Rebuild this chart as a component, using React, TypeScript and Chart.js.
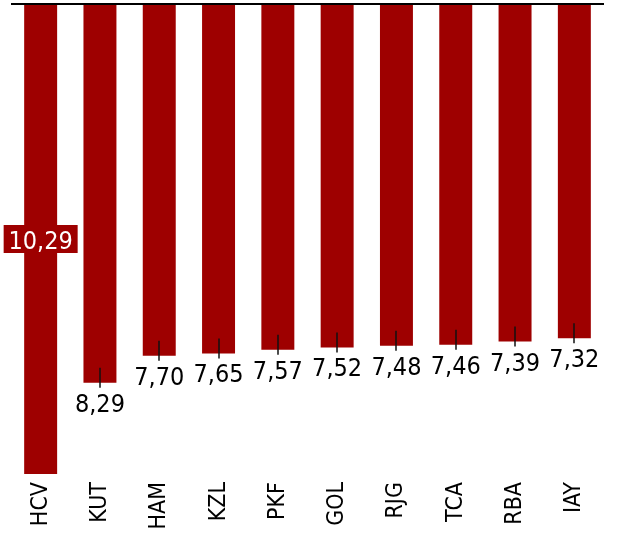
import { useEffect, useRef } from 'react';
import { Chart, registerables } from 'chart.js';

Chart.register(...registerables);

const categories = ['HCV', 'KUT', 'HAM', 'KZL', 'PKF', 'GOL', 'RJG', 'TCA', 'RBA', 'IAY'];
const values = [10.29, 8.29, 7.7, 7.65, 7.57, 7.52, 7.48, 7.46, 7.39, 7.32];
const axisMax = 10.29;
const barColor = '#9e0000';
const fontFamily = '"DejaVu Sans Condensed", "DejaVu Sans", sans-serif';

const fmt = (v: number) => v.toFixed(2).replace('.', ',');

const labelPlugin = {
  id: 'valueLabels',
  afterDatasetsDraw(chart: any) {
    const ctx = chart.ctx as CanvasRenderingContext2D;
    const area = chart.chartArea;
    ctx.save();
    ctx.strokeStyle = '#000';
    ctx.lineWidth = 2;
    ctx.beginPath();
    ctx.moveTo(area.left, area.top);
    ctx.lineTo(area.right, area.top);
    ctx.stroke();

    const meta = chart.getDatasetMeta(0);
    ctx.font = `25px ${fontFamily}`;
    ctx.textAlign = 'center';
    meta.data.forEach((bar: any, i: number) => {
      const text = fmt(values[i]);
      const x = bar.x;
      const y = bar.y;
      if (y + 40 > area.bottom) {
        const my = (area.top + y) / 2;
        const w = 74;
        ctx.fillStyle = barColor;
        ctx.fillRect(x - w / 2, my - 14, w, 28);
        ctx.fillStyle = '#fff';
        ctx.textBaseline = 'alphabetic';
        ctx.fillText(text, x, my + 9.5);
      } else {
        const lx = Math.round(x);
        ctx.strokeStyle = '#111';
        ctx.lineWidth = 1.5;
        ctx.beginPath();
        ctx.moveTo(lx, y - 15);
        ctx.lineTo(lx, y + 5);
        ctx.stroke();
        ctx.fillStyle = '#000';
        ctx.textBaseline = 'alphabetic';
        ctx.fillText(text, x, y + 29);
      }
    });
    ctx.restore();
  },
};

export default function App() {
  const ref = useRef<HTMLCanvasElement | null>(null);
  useEffect(() => {
    if (!ref.current) return;
    const chart = new Chart(ref.current, {
      type: 'bar',
      data: {
        labels: categories,
        datasets: [
          {
            data: values,
            backgroundColor: barColor,
            borderWidth: 0,
            barPercentage: 0.556,
            categoryPercentage: 1,
          },
        ],
      },
      options: {
        animation: false,
        responsive: true,
        maintainAspectRatio: false,
        layout: { padding: { left: 11, right: 13, top: 4, bottom: 0 } },
        plugins: { legend: { display: false }, tooltip: { enabled: false } },
        scales: {
          x: {
            grid: { display: false, drawTicks: false },
            border: { display: false },
            ticks: {
              minRotation: 90,
              maxRotation: 90,
              autoSkip: false,
              padding: 8,
              color: '#000',
              font: { family: fontFamily, size: 23 },
            },
            afterFit: (s: any) => {
              s.height = 65;
            },
          },
          y: {
            display: false,
            reverse: true,
            min: 0,
            max: axisMax,
          },
        },
      },
      plugins: [labelPlugin],
    });
    return () => chart.destroy();
  }, []);
  return (
    <div style={{ position: 'absolute', left: 0, top: 0, width: 617, height: 539 }}>
      <canvas ref={ref} />
    </div>
  );
}
